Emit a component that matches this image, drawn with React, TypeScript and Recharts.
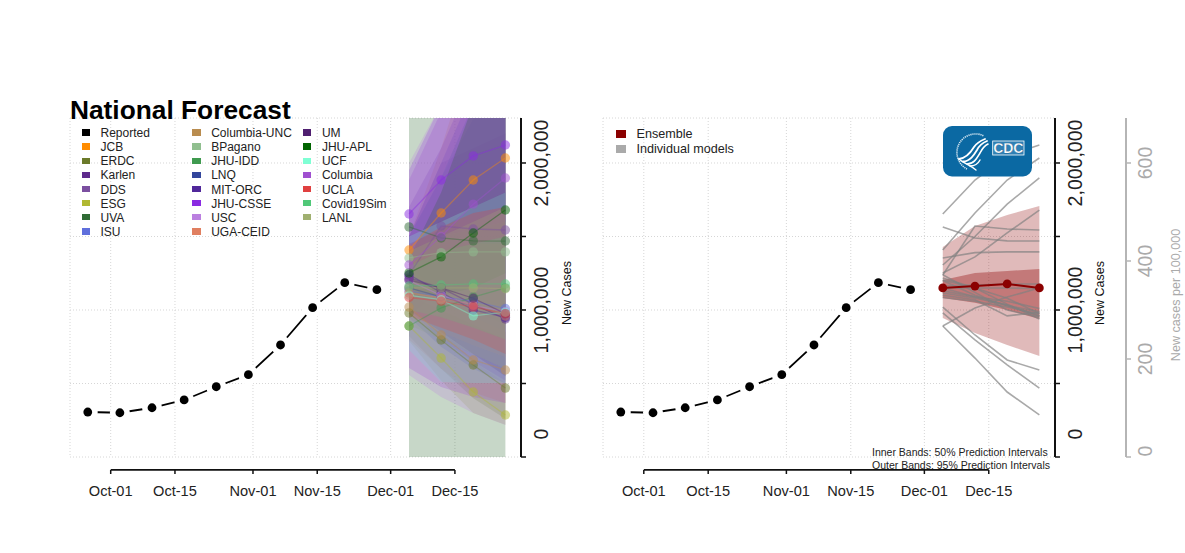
import { ComposedChart, Area, Line, XAxis, YAxis, CartesianGrid, ReferenceLine } from "recharts";

// days counted from Oct-01
const reportedDays = [-5, 2, 9, 16, 23, 30, 37, 44, 51, 58];
const reportedCases = [306000, 301000, 335000, 388000, 478000, 560000, 762000, 1016000, 1186000, 1138000];
const forecastDays = [65, 72, 79, 86];

const xTicks = [0, 14, 31, 45, 61, 75];
const xLabels = ["Oct-01", "Oct-15", "Nov-01", "Nov-15", "Dec-01", "Dec-15"];
const caseTicks = [0, 500000, 1000000, 1500000, 2000000];
const rateTicks = [0, 200, 400, 600];

const modelNames = [
  "JCB", "ERDC", "Karlen", "DDS", "ESG", "UVA", "ISU", "Columbia-UNC", "BPagano", "JHU-IDD", "LNQ",
  "MIT-ORC", "JHU-CSSE", "USC", "UGA-CEID", "UM", "JHU-APL", "UCF", "Columbia", "UCLA", "Covid19Sim", "LANL",
];
const modelColors = [
  "#ff8c00", "#6b7a2a", "#5e2a8c", "#7b4fa0", "#b0b832", "#2f6b35", "#5f6fdc", "#b98c4f", "#90bf8f", "#3f9a4f", "#33469c",
  "#50289a", "#8a2be2", "#bb80e0", "#e07f60", "#4f1f70", "#006400", "#7fffd4", "#a050d0", "#e04040", "#50c878", "#a0b070",
];
const bandOpacity = [
  0.2, 0.22, 0.22, 0.22, 0.2, 0.27, 0.2, 0.28, 0.2, 0.2, 0.25,
  0.22, 0.25, 0.25, 0.22, 0.22, 0.22, 0.3, 0.25, 0.28, 0.2, 0.22,
];
// thousands of cases, one row per model
const modelMedian = [
  [1408, 1660, 1884, 2034],
  [980, 796, 626, 469],
  [1218, 1150, 1040, 939],
  [1238, 1571, 1551, 1544],
  [891, 673, 442, 286],
  [1565, 1490, 1470, 1469],
  [1130, 1090, 1060, 1010],
  [1020, 830, 660, 592],
  [1354, 1390, 1395, 1395],
  [891, 1014, 1088, 1150],
  [1150, 1090, 1030, 960],
  [1240, 1120, 1000, 950],
  [1653, 1884, 2048, 2122],
  [1200, 1100, 1030, 990],
  [1116, 1082, 1034, 959],
  [1204, 1150, 1080, 975],
  [1252, 1361, 1524, 1680],
  [1100, 1070, 960, 985],
  [1306, 1500, 1720, 1898],
  [1085, 1060, 1020, 975],
  [1163, 1170, 1177, 1177],
  [1150, 1150, 1150, 1145],
];
const modelLow = [
  [1100, 1150, 1100, 1000],
  [823, 600, 400, 260],
  [1000, 850, 700, 550],
  [950, 1150, 1050, 950],
  [790, 520, 300, 220],
  [0, 0, 0, 0],
  [900, 800, 700, 600],
  [800, 600, 440, 367],
  [1100, 1000, 900, 800],
  [1300, 1100, 1000, 900],
  [950, 750, 600, 500],
  [1000, 800, 650, 520],
  [1400, 1500, 1550, 1600],
  [558, 408, 299, 218],
  [940, 850, 760, 680],
  [1000, 850, 700, 550],
  [1100, 1100, 1150, 1250],
  [728, 510, 503, 503],
  [605, 476, 408, 367],
  [960, 880, 800, 700],
  [1000, 950, 880, 800],
  [900, 800, 700, 600],
];
const modelHigh = [
  [1500, 2100, 2800, 3300],
  [1100, 1000, 900, 800],
  [1500, 1900, 2300, 2700],
  [1500, 2000, 2100, 2200],
  [1000, 850, 650, 500],
  [2500, 2700, 2900, 3100],
  [1500, 1900, 2400, 2900],
  [1250, 1080, 950, 850],
  [1500, 1900, 2400, 2900],
  [1500, 1900, 2400, 3000],
  [1500, 2000, 2500, 3000],
  [1700, 2100, 2600, 3000],
  [1950, 2400, 2900, 3300],
  [2000, 2400, 2600, 2800],
  [1350, 1400, 1450, 1450],
  [1450, 1550, 1700, 1800],
  [1350, 1800, 2400, 3000],
  [1500, 1600, 1700, 1800],
  [1884, 2350, 2600, 2900],
  [1442, 1565, 1660, 1700],
  [1300, 1400, 1450, 1500],
  [1400, 1500, 1600, 1700],
];

const ensembleMedian = [1150000, 1163000, 1177000, 1150000];
const ensembleInnerLow = [1082000, 1050000, 1000000, 939000];
const ensembleInnerHigh = [1204000, 1252000, 1265000, 1279000];
const ensembleOuterLow = [946000, 844000, 762000, 687000];
const ensembleOuterHigh = [1429000, 1571000, 1646000, 1707000];

const legendColumns = [
  [["Reported", "#000000"], ["JCB", "#ff8c00"], ["ERDC", "#6b7a2a"], ["Karlen", "#5e2a8c"], ["DDS", "#7b4fa0"], ["ESG", "#b0b832"], ["UVA", "#2f6b35"], ["ISU", "#5f6fdc"]],
  [["Columbia-UNC", "#b98c4f"], ["BPagano", "#90bf8f"], ["JHU-IDD", "#3f9a4f"], ["LNQ", "#33469c"], ["MIT-ORC", "#50289a"], ["JHU-CSSE", "#8a2be2"], ["USC", "#bb80e0"], ["UGA-CEID", "#e07f60"]],
  [["UM", "#4f1f70"], ["JHU-APL", "#006400"], ["UCF", "#7fffd4"], ["Columbia", "#a050d0"], ["UCLA", "#e04040"], ["Covid19Sim", "#50c878"], ["LANL", "#a0b070"]],
];

const rows: any[] = [
  ...reportedDays.map((day, i) => ({ day, reported: reportedCases[i] })),
  ...forecastDays.map((day, i) => {
    const row: any = {
      day,
      ensemble: ensembleMedian[i],
      inner: [ensembleInnerLow[i], ensembleInnerHigh[i]],
      outer: [ensembleOuterLow[i], ensembleOuterHigh[i]],
    };
    modelNames.forEach((_, m) => {
      row["med" + m] = modelMedian[m][i] * 1000;
      row["band" + m] = [modelLow[m][i] * 1000, modelHigh[m][i] * 1000];
    });
    return row;
  }),
];

const FONT = "'Liberation Sans', Arial, sans-serif";
const X_DOMAIN = [-8.87, 89.4];
const Y_MAX = 2306000;
const AXIS_DROP = -88000; // date axis hangs below the plot

const DateTick = ({ x, y, payload }: any) => (
  <g>
    <line x1={x} x2={x} y1={y + 13} y2={y + 17} stroke="#111" strokeWidth={1.5} />
    <text x={x} y={y + 39} textAnchor="middle" fontSize={14.6} fontFamily={FONT} fill="#222">
      {xLabels[xTicks.indexOf(payload.value)]}
    </text>
  </g>
);

const CaseTick = ({ x, y, payload }: any) => {
  if (payload.value % 1000000 !== 0) return <g />;
  const cy = payload.value === 0 ? y - 23 : y;
  const tx = x + 22;
  return (
    <text x={tx} y={cy} transform={`rotate(-90 ${tx} ${cy})`} textAnchor="middle" fontSize={19.5} fontFamily={FONT} fill="#222">
      {payload.value.toLocaleString("en-US")}
    </text>
  );
};

const RateTick = ({ x, y, payload }: any) => {
  const cy = payload.value === 0 ? y - 6 : y;
  const tx = x + 21;
  return (
    <text x={tx} y={cy} transform={`rotate(-90 ${tx} ${cy})`} textAnchor="middle" fontSize={19.5} fontFamily={FONT} fill="#aaa">
      {payload.value}
    </text>
  );
};

const SideTitle = ({ left, top, color, size, children }: any) => (
  <div
    style={{
      position: "absolute", left, top, width: 0, height: 0, whiteSpace: "nowrap", color,
      fontFamily: FONT, fontSize: size, lineHeight: 0, display: "flex", justifyContent: "center",
      transform: "rotate(-90deg)",
    }}
  >
    {children}
  </div>
);

const CdcLogo = () => (
  <svg style={{ position: "absolute", left: 943, top: 126 }} width={90} height={51}>
    <rect x={0} y={0} width={89} height={50.5} rx={9} fill="#0b69a3" />
    <path d="M24 43 A18 18 0 1 1 41 10" fill="none" stroke="#d8e8f2" strokeWidth={1.6} strokeDasharray="1.2 0.8" />
    <g fill="none" stroke="#fff" strokeLinecap="round">
      <path d="M16 33 C24 32 28 26 31 21 C33 18 37 15 42 13" strokeWidth={1.8} />
      <path d="M20 35.5 C27 35.5 31 29 34 24 C36 20 39 17 44 15" strokeWidth={1.8} />
      <path d="M24 38 C31 38 34 32 37 27 C39 23 41 20 45 18" strokeWidth={1.6} />
      <path d="M16 33 C20 37 27 39 33 44" strokeWidth={1.4} />
      <path d="M27 40 C31 40 35 38 37 34" strokeWidth={1.4} />
    </g>
    <rect x={49.7} y={15} width={31.3} height={14} fill="#2f80b5" stroke="#fff" strokeWidth={0.8} />
    <text x={65.3} y={27} textAnchor="middle" fontSize={14} fontWeight="bold" fontFamily={FONT} fill="#fff" stroke="#0b4f80" strokeWidth={0.25}>
      CDC
    </text>
  </svg>
);

const Swatch = ({ left, top, w, h, color }: any) => (
  <div style={{ position: "absolute", left, top, width: w, height: h, background: color }} />
);

const Label = ({ left, top, size, children }: any) => (
  <div style={{ position: "absolute", left, top, fontFamily: FONT, fontSize: size, lineHeight: "14px", color: "#222", whiteSpace: "nowrap" }}>
    {children}
  </div>
);

const Panel = ({ kind }: { kind: "models" | "ensemble" }) => {
  const isModels = kind === "models";
  return (
    <ComposedChart
      width={isModels ? 600 : 652}
      height={553}
      data={rows}
      margin={{ top: 118, bottom: 0, left: 70, right: 0 }}
    >
      <XAxis
        dataKey="day"
        type="number"
        domain={X_DOMAIN}
        allowDataOverflow
        ticks={xTicks}
        axisLine={false}
        tickLine={false}
        tickSize={0}
        tickMargin={0}
        height={96}
        interval={0}
        tick={<DateTick />}
      />
      <YAxis
        yAxisId="cases"
        orientation="right"
        type="number"
        domain={[0, Y_MAX]}
        allowDataOverflow
        ticks={caseTicks}
        interval={0}
        width={isModels ? 79 : 71}
        axisLine={{ stroke: "#111", strokeWidth: 2 }}
        tickLine={{ stroke: "#111", strokeWidth: 1.5 }}
        tickSize={5}
        tickMargin={0}
        tick={<CaseTick />}
      />
      {!isModels && (
        <YAxis
          yAxisId="rate"
          orientation="right"
          type="number"
          domain={[0, 691.8]}
          allowDataOverflow
          ticks={rateTicks}
          interval={0}
          width={59}
          axisLine={{ stroke: "#b5b5b5", strokeWidth: 2 }}
          tickLine={{ stroke: "#b5b5b5", strokeWidth: 1.5 }}
          tickSize={5}
          tickMargin={0}
          tick={<RateTick />}
        />
      )}

      <Line
        yAxisId="cases"
        dataKey="reported"
        stroke="#000"
        strokeWidth={1.8}
        dot={{ r: 10, fill: "#fff", stroke: "none" }}
        activeDot={false}
        isAnimationActive={false}
        legendType="none"
      />
      <CartesianGrid yAxisId="cases" stroke="#d6d6d6" strokeDasharray="1 2" />
      <ReferenceLine
        yAxisId="cases"
        ifOverflow="visible"
        stroke="#111"
        strokeWidth={1.8}
        segment={[{ x: xTicks[0], y: AXIS_DROP }, { x: xTicks[xTicks.length - 1], y: AXIS_DROP }]}
      />

      {isModels &&
        modelNames.map((name, m) => (
          <Area
            key={name}
            yAxisId="cases"
            dataKey={"band" + m}
            stroke="none"
            fill={modelColors[m]}
            fillOpacity={bandOpacity[m]}
            dot={false}
            activeDot={false}
            isAnimationActive={false}
          />
        ))}
      {!isModels && (
        <Area yAxisId="cases" dataKey="outer" stroke="none" fill="#8b0000" fillOpacity={0.27} dot={false} activeDot={false} isAnimationActive={false} />
      )}
      {!isModels && (
        <Area yAxisId="cases" dataKey="inner" stroke="none" fill="#8b0000" fillOpacity={0.35} dot={false} activeDot={false} isAnimationActive={false} />
      )}

      <Line
        yAxisId="cases"
        dataKey="reported"
        stroke="none"
        dot={{ r: 4.4, fill: "#000", stroke: "none" }}
        activeDot={false}
        isAnimationActive={false}
      />
      {modelNames.map((name, m) => (
        <Line
          key={name}
          yAxisId="cases"
          dataKey={"med" + m}
          stroke={isModels ? modelColors[m] : "#808080"}
          strokeOpacity={isModels ? 0.4 : 0.68}
          strokeWidth={isModels ? 1.3 : 1.6}
          dot={isModels ? { r: 4.7, fill: modelColors[m], fillOpacity: 0.5, stroke: "none" } : false}
          activeDot={false}
          isAnimationActive={false}
        />
      ))}
      {!isModels && (
        <Line
          yAxisId="cases"
          dataKey="ensemble"
          stroke="#8b0000"
          strokeWidth={2}
          dot={{ r: 4.4, fill: "#8b0000", stroke: "none" }}
          activeDot={false}
          isAnimationActive={false}
        />
      )}
    </ComposedChart>
  );
};

export default function App() {
  return (
    <div style={{ position: "absolute", left: 0, top: 0, width: 1185, height: 553, background: "#fff", overflow: "hidden" }}>
      <div style={{ position: "absolute", left: 0, top: 0 }}>
        <Panel kind="models" />
      </div>
      <div style={{ position: "absolute", left: 533, top: 0 }}>
        <Panel kind="ensemble" />
      </div>

      <div style={{ position: "absolute", left: 70, top: 95, fontFamily: FONT, fontSize: 26.3, fontWeight: "bold", color: "#000", lineHeight: "30px", whiteSpace: "nowrap" }}>
        National Forecast
      </div>

      {legendColumns.map((col, c) =>
        col.map(([name, color], r) => (
          <div key={name}>
            <Swatch left={81.7 + c * 110.7} top={129.3 + r * 14.15} w={8.3} h={6.3} color={color} />
            <Label left={100.5 + c * 110.7} top={126 + r * 14.15} size={12}>{name}</Label>
          </div>
        ))
      )}

      <Swatch left={615.5} top={129.5} w={10} h={8.5} color="#8b0000" />
      <Label left={636.5} top={127} size={12.6}>Ensemble</Label>
      <Swatch left={615.5} top={145} w={10} h={7.5} color="#aaaaaa" />
      <Label left={636.5} top={142} size={12.6}>Individual models</Label>

      <CdcLogo />

      <Label left={872} top={444.5} size={10.5}>Inner Bands: 50% Prediction Intervals</Label>
      <Label left={872} top={458} size={10.5}>Outer Bands: 95% Prediction Intervals</Label>

      <SideTitle left={567} top={293} color="#111" size={12.5}>New Cases</SideTitle>
      <SideTitle left={1100} top={293} color="#111" size={12.5}>New Cases</SideTitle>
      <SideTitle left={1176} top={295} color="#aaa" size={12.6}>New cases per 100,000</SideTitle>
    </div>
  );
}
